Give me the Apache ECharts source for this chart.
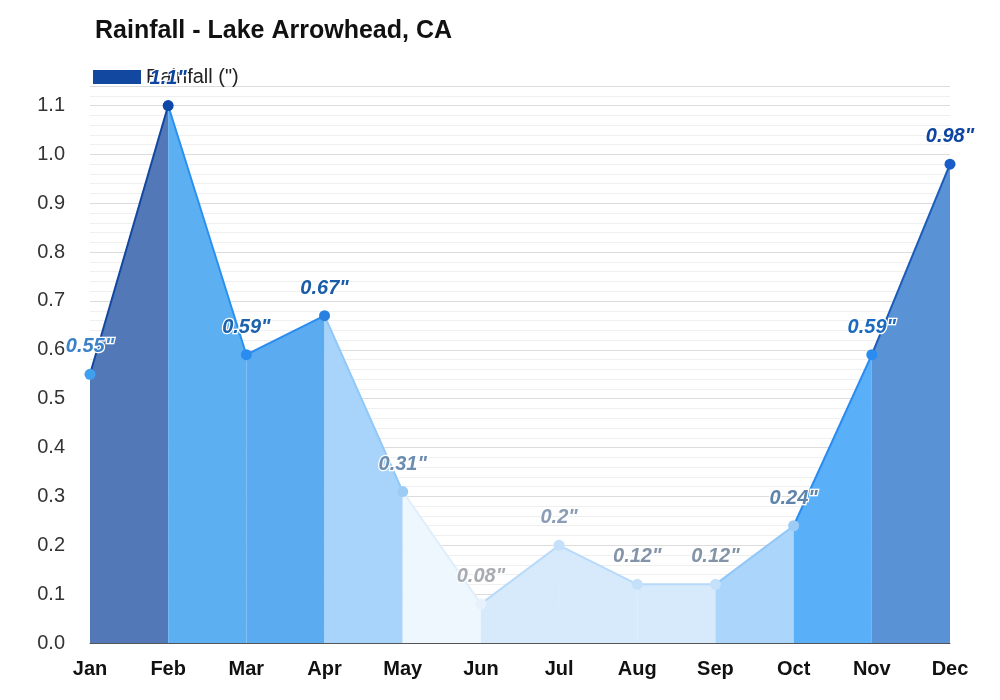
<!DOCTYPE html><html><head><meta charset="utf-8"><script src="https://cdn.jsdelivr.net/npm/echarts@6/dist/echarts.min.js"></script></head><body style="margin:0"><div id="c" style="width:1000px;height:700px"></div><script>
const months=['Jan','Feb','Mar','Apr','May','Jun','Jul','Aug','Sep','Oct','Nov','Dec'];
const rain=[0.55,1.1,0.59,0.67,0.31,0.08,0.2,0.12,0.12,0.24,0.59,0.98];
const labels=['0.55"','1.1"','0.59"','0.67"','0.31"','0.08"','0.2"','0.12"','0.12"','0.24"','0.59"','0.98"'];
const areaCols=['#5278b8','#5cb0f2','#5aabf0','#a8d3fa','#eef6fe','#d6eafc','#d6eafc','#d6eafc','#abd5fb','#5ab0f8','#5a92d6'];
const lineCols=['#1248a0','#2a90f0','#2a8cf0','#90c8f8','#e0eefc','#b8dafa','#b8dafa','#b8dafa','#90c8f8','#2a8cf0','#1a5cb8'];
const pointCols=['#3fa0f0','#0d48a8','#2a8cf0','#2a80e0','#9ccbf6','#e6f1fc','#c4e0fa','#c4e0fa','#c4e0fa','#9ccbf6','#2a8cf0','#1a5cc8'];
const labelCols=['#3c82c8','#0d45a0','#1d62aa','#1a5ca8','#6c8cb0','#a8acb2','#8a9cb6','#8494a8','#8494a8','#5f84ac','#1c6ac0','#0d45a0'];
const series=[];
for(let i=0;i<11;i++){
  series.push({type:'line',silent:true,symbol:'none',z:2,data:rain.map((v,j)=>(j===i||j===i+1)?v:null),
    lineStyle:{color:lineCols[i],width:2},areaStyle:{color:areaCols[i],opacity:1}});
}
series.push({type:'line',name:'Rainfall (")',z:5,symbol:'circle',symbolSize:11,lineStyle:{width:0},
  itemStyle:{color:'#1248a0'},
  data:rain.map((v,i)=>({value:v,itemStyle:{color:pointCols[i]},label:{color:labelCols[i]}})),
  label:{show:true,position:'top',distance:12,formatter:p=>labels[p.dataIndex],fontFamily:'Liberation Sans',fontSize:20,fontWeight:'bold',fontStyle:'italic',textBorderColor:'#fff',textBorderWidth:2.5}});
const ch=echarts.init(document.getElementById('c'));
ch.setOption({animation:false,
 title:{text:'Rainfall - Lake Arrowhead, CA',left:90,top:14,textStyle:{fontFamily:'Liberation Sans',fontSize:25,fontWeight:'bold',color:'#111'}},
 legend:{left:88,top:62,itemWidth:48,itemHeight:14,data:[{name:'Rainfall (")',icon:'path://M0,0H48V14H0Z'}],textStyle:{fontFamily:'Liberation Sans',fontSize:20,color:'#222'}},
 grid:{left:90,right:50,top:86,bottom:57},
 xAxis:{type:'category',boundaryGap:false,data:months,axisTick:{show:false},axisLine:{lineStyle:{color:'#555'}},
   axisLabel:{fontFamily:'Liberation Sans',fontSize:20,fontWeight:'bold',color:'#111',margin:16}},
 yAxis:{type:'value',min:0,max:1.14,interval:0.1,axisLabel:{fontFamily:'Liberation Sans',fontSize:20,color:'#333',margin:25,formatter:v=>(Math.round(v*100)%10===0)?v.toFixed(1):''},
   splitLine:{lineStyle:{color:'#dcdcdc'}},minorTick:{show:false,splitNumber:5},minorSplitLine:{show:true,lineStyle:{color:'#efefef'}}},
 series});
</script></body></html>
